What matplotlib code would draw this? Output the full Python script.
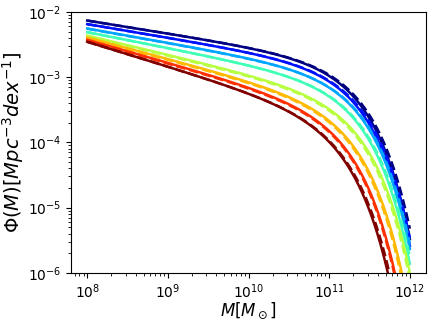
import numpy as np
import matplotlib
matplotlib.use('Agg')
import matplotlib.pyplot as plt

# Schechter parameters (solid set)
log_phi_star = [-3.135, -3.221, -3.326, -3.459, -3.682, -3.797, -3.881, -3.971]
log_m_star = [11.230, 11.228, 11.239, 11.227, 11.248, 11.171, 11.103, 11.037]
alpha = [-1.198, -1.208, -1.219, -1.244, -1.295, -1.329, -1.352, -1.379]

# dashed set: small offsets from the solid set
log_phi_star_d = [-3.140, -3.226, -3.333, -3.465, -3.690, -3.805, -3.889, -3.980]
log_m_star_d = [11.258, 11.250, 11.255, 11.245, 11.232, 11.158, 11.095, 11.058]
alpha_d = [-1.198, -1.208, -1.219, -1.244, -1.295, -1.329, -1.352, -1.379]

log_mass = np.linspace(8, 12, 200)


def schechter(lm, lphi, lms, a):
    x = 10 ** (lm - lms)
    return np.log(10) * 10 ** lphi * x ** (a + 1) * np.exp(-x)


colors = plt.cm.jet(np.linspace(0, 1, len(alpha)))

fig = plt.figure(figsize=(4.36, 3.21), dpi=100)
ax = fig.add_axes([0.163, 0.15, 0.814, 0.813])

for i in range(len(alpha)):
    ax.plot(10 ** log_mass,
            schechter(log_mass, log_phi_star[i], log_m_star[i], alpha[i]),
            color=colors[i], lw=1.8)
    ax.plot(10 ** log_mass,
            schechter(log_mass, log_phi_star_d[i], log_m_star_d[i], alpha_d[i]),
            color=colors[i], lw=1.8, ls='--')

ax.set_xscale('log')
ax.set_yscale('log')
ax.set_ylim(1e-6, 1e-2)
ax.tick_params(labelsize=10)

ax.set_xlabel(r'$M[M_\odot]$', fontsize=12, labelpad=0)
ax.set_ylabel(r'$\Phi(M)[Mpc^{-3}dex^{-1}]$', fontsize=14, labelpad=1)

fig.savefig('out.png', dpi=100)
